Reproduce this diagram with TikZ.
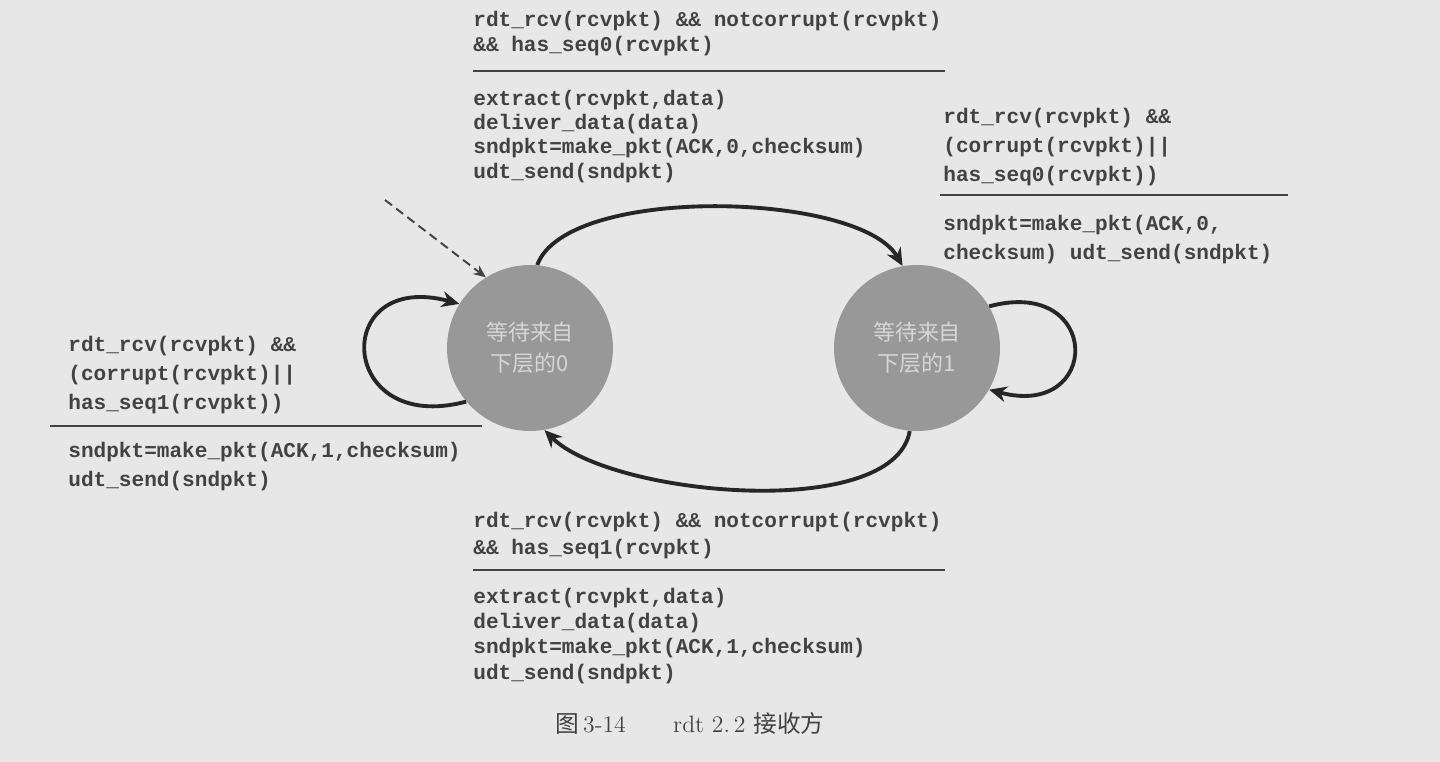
\documentclass[tikz,border=0pt]{standalone}
\usepackage{fontspec}
\setmonofont{Liberation Mono}
\newfontfamily\cjk{Noto Sans CJK SC}
\usetikzlibrary{arrows.meta}
\definecolor{sfondo}{RGB}{231,231,231}
\definecolor{grigiostato}{RGB}{152,152,152}
\definecolor{testo}{RGB}{66,66,66}
\definecolor{freccia}{RGB}{38,38,38}

\begin{document}
\begin{tikzpicture}[
  stato/.style={circle, fill=grigiostato, minimum size=3.32cm, inner sep=0pt, align=center, text=white!84!black, font=\cjk\fontsize{12.5}{17.5}\selectfont},
  cond/.style={anchor=base west, inner sep=0pt, align=left, text=testo, font=\ttfamily\bfseries\fontsize{12}{#1}\selectfont},
  cond/.default=13.7,
  arco/.style={draw=freccia, line width=2.2pt, -{Stealth[length=10pt,width=9pt]}},
  iniziale/.style={draw=testo, line width=1.1pt, dash pattern=on 5pt off 3pt, -{Stealth[length=7pt,width=6pt]}}]

\useasboundingbox (0,0) rectangle (28.8,-15.24);
\fill[sfondo] (0,0) rectangle (28.8,-15.24);

% Stati
\node[stato] (s0) at (10.6,-6.96) {等待来自\\下层的0};
\node[stato] (s1) at (18.34,-6.96) {等待来自\\下层的1};
\coordinate (ini) at (7.7,-4.0);

% Etichette (ancorate all'ultima riga)
\node[cond] (g0) at (9.46,-1.02) {rdt\_rcv(rcvpkt) \&\& notcorrupt(rcvpkt)\\\&\& has\_seq0(rcvpkt)};
\node[cond] (a0) at (9.46,-3.56) {extract(rcvpkt,data)\\deliver\_data(data)\\sndpkt=make\_pkt(ACK,0,checksum)\\udt\_send(sndpkt)};
\node[cond=16.5] (g1) at (18.86,-3.62) {rdt\_rcv(rcvpkt) \&\&\\(corrupt(rcvpkt)||\\has\_seq0(rcvpkt))};
\node[cond=16] (a1) at (18.86,-5.18) {sndpkt=make\_pkt(ACK,0,\\checksum) udt\_send(sndpkt)};
\node[cond=16.5] (g2) at (1.36,-8.18) {rdt\_rcv(rcvpkt) \&\&\\(corrupt(rcvpkt)||\\has\_seq1(rcvpkt))};
\node[cond=16] (a2) at (1.36,-9.72) {sndpkt=make\_pkt(ACK,1,checksum)\\udt\_send(sndpkt)};
\node[cond=15.3] (g3) at (9.46,-11.08) {rdt\_rcv(rcvpkt) \&\& notcorrupt(rcvpkt)\\\&\& has\_seq1(rcvpkt)};
\node[cond=14.3] (a3) at (9.46,-13.58) {extract(rcvpkt,data)\\deliver\_data(data)\\sndpkt=make\_pkt(ACK,1,checksum)\\udt\_send(sndpkt)};

% Righe
\draw[testo, line width=0.9pt] (9.46,-1.42) -- (18.9,-1.42);
\draw[testo, line width=0.9pt] (18.8,-3.9) -- (25.76,-3.9);
\draw[testo, line width=0.9pt] (1.0,-8.52) -- (9.64,-8.52);
\draw[testo, line width=0.9pt] (9.46,-11.4) -- (18.9,-11.4);

% Archi
\draw[arco] (s0.85) to[out=70,in=120,looseness=0.6] (s1.100);
\draw[arco] (s1.-95) to[out=-100,in=-45,looseness=0.65] (s0.-80);
\draw[arco] (s0.220) to[out=195,in=165,looseness=3.5] (s0.148);
\draw[arco] (s1.30) to[out=15,in=-15,looseness=3.6] (s1.-30);
\draw[iniziale] (ini) -- (s0.122);

% Didascalia
\node[text=testo, font=\fontsize{13.5}{15}\selectfont] (cap) at (13.8,-14.46) {{\cjk 图}\,3-14\quad\quad rdt 2.\,2 {\cjk 接收方}};
\end{tikzpicture}
\end{document}
